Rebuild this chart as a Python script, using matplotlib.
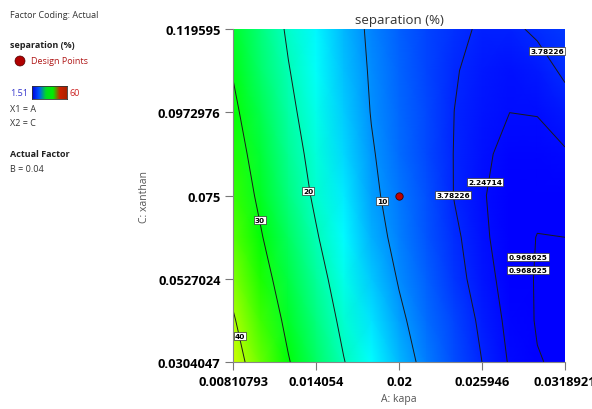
import numpy as np
import matplotlib
matplotlib.use('Agg')
import matplotlib.pyplot as plt
from matplotlib.colors import LinearSegmentedColormap
from matplotlib.patches import Ellipse

plt.rcParams['font.family'] = ['Open Sans', 'DejaVu Sans']

# axis ticks (actual factor values)
x_ticks = [0.00810793, 0.014054, 0.02, 0.025946, 0.0318921]
x_tick_labels = ['0.00810793', '0.014054', '0.02', '0.025946', '0.0318921']
y_ticks = [0.0304047, 0.0527024, 0.075, 0.0972976, 0.119595]
y_tick_labels = ['0.0304047', '0.0527024', '0.075', '0.0972976', '0.119595']

kapa = np.linspace(x_ticks[0], x_ticks[-1], 13)
xanthan = np.linspace(y_ticks[-1], y_ticks[0], 9)  # rows top -> bottom
separation = np.array([
    [28.6, 23.8, 19.3, 15.8, 12.2, 9.25, 7.0, 5.4, 4.3, 3.5, 3.4, 4.1, 4.9],
    [29.7, 24.8, 20.25, 16.5, 12.7, 9.55, 7.4, 5.6, 3.95, 3.05, 2.6, 3.0, 4.1],
    [31.1, 26.3, 21.2, 17.4, 13.2, 9.85, 7.6, 5.7, 3.77, 2.8, 2.25, 2.3, 3.0],
    [32.5, 27.6, 22.4, 18.2, 13.85, 10.35, 7.9, 5.75, 3.7, 2.45, 1.95, 1.8, 2.1],
    [33.8, 28.9, 23.6, 19.1, 15.0, 10.8, 8.4, 6.1, 3.7, 2.35, 1.7, 1.35, 1.4],
    [35.7, 30.4, 25.4, 20.45, 16.0, 11.6, 8.9, 6.5, 4.2, 2.5, 1.6, 0.93, 0.97],
    [38.2, 32.3, 26.9, 22.0, 17.4, 13.1, 9.7, 7.0, 4.6, 2.8, 1.7, 0.85, 0.55],
    [40.6, 34.4, 28.6, 23.5, 18.8, 14.7, 10.8, 7.9, 5.4, 3.3, 1.85, 0.85, 0.55],
    [42.7, 36.5, 30.35, 25.2, 20.2, 16.2, 12.1, 8.7, 6.0, 3.78, 2.1, 1.05, 0.7],
])

levels = [0.968625, 2.24714, 3.78226, 10, 20, 30, 40]
level_text = ['0.968625', '2.24714', '3.78226', '10', '20', '30', '40']

# contour label spots (level index, kapa, xanthan)
label_spots = [
    (6, 0.008609, 0.037371),
    (5, 0.010042, 0.068437),
    (4, 0.013481, 0.076205),
    (3, 0.018782, 0.073526),
    (2, 0.023869, 0.075133),
    (1, 0.026161, 0.078615),
    (2, 0.030603, 0.113703),
    (0, 0.029241, 0.058528),
    (0, 0.029241, 0.055046),
]

design_kapa = [0.02]
design_xanthan = [0.075]
z_min, z_max = 1.51, 60

cmap = LinearSegmentedColormap.from_list(
    'de', ['#0000ff', '#00ffff', '#00ff00', '#ffff00', '#ff0000'])
legend_cmap = LinearSegmentedColormap.from_list(
    'leg', ['#0000dd', '#0055ff', '#00dd22', '#00ee00', '#cc2200', '#aa2200'])

fig = plt.figure(figsize=(5.92, 4.10), dpi=100)
ax = fig.add_axes([0.3936, 0.1146, 0.5608, 0.8122])

X, Y = np.meshgrid(kapa, xanthan[::-1])
Z = separation[::-1]
ax.pcolormesh(X, Y, Z, shading='gouraud', cmap=cmap, vmin=z_min, vmax=z_max,
              rasterized=True)
ax.contour(X, Y, Z, levels=levels, colors='#1a1a1a', linewidths=0.7)

for i, lx, ly in label_spots:
    ax.text(lx, ly, level_text[i], fontsize=5.3, fontweight='bold',
            family='DejaVu Sans', ha='center', va='center', color='black',
            bbox=dict(boxstyle='square,pad=0.15', fc='white', ec='#333333', lw=0.5))

ax.scatter(design_kapa, design_xanthan, s=28, color='#c00000',
           edgecolors='#400000', linewidths=0.6, zorder=5)

ax.set_xlim(x_ticks[0], x_ticks[-1])
ax.set_ylim(y_ticks[0], y_ticks[-1])
ax.set_xticks(x_ticks)
ax.set_xticklabels(x_tick_labels)
ax.set_yticks(y_ticks)
ax.set_yticklabels(y_tick_labels)
ax.tick_params(direction='out', length=6, width=0.8, color='#777777',
               labelsize=9.3, pad=3)
for t in ax.get_xticklabels() + ax.get_yticklabels():
    t.set_fontweight('bold')
for s in ['top', 'right']:
    ax.spines[s].set_visible(False)
for s in ['left', 'bottom']:
    ax.spines[s].set_color('#888888')
    ax.spines[s].set_linewidth(0.8)

ax.set_title('separation (%)', fontsize=9.5, color='#333333', pad=4)
ax.set_xlabel('A: kapa', fontsize=7.5, color='#555555', labelpad=4)
ax.set_ylabel('C: xanthan', fontsize=7.5, color='#555555', labelpad=6)

# left side info panel
tx = 10 / 592
def fy(py):
    return 1 - py / 410

fig.text(tx, fy(15), 'Factor Coding: Actual', fontsize=6.5, color='#333333', va='center')
fig.text(tx, fy(46), 'separation (%)', fontsize=6.5, color='#222222',
         fontweight='bold', va='center')
fig.text(31 / 592, fy(62), 'Design Points', fontsize=6.5, color='#b01818', va='center')
fig.add_artist(Ellipse((20 / 592, fy(62)), 10 / 592, 10 / 410,
                       transform=fig.transFigure, fc='#b00000', ec='#500000', lw=0.5))
fig.text(tx, fy(93), '1.51', fontsize=6.5, color='#3333cc', va='center')
fig.text(70 / 592, fy(93), '60', fontsize=6.5, color='#cc2222', va='center')
cax = fig.add_axes([32 / 592, fy(100), 35 / 592, 13 / 410])
cax.imshow(np.linspace(0, 1, 200)[None, :], aspect='auto', cmap=legend_cmap)
cax.set_xticks([])
cax.set_yticks([])
for s in cax.spines.values():
    s.set_color('#333333')
    s.set_linewidth(0.6)
fig.text(tx, fy(109), 'X1 = A', fontsize=6.5, color='#333333', va='center')
fig.text(tx, fy(124), 'X2 = C', fontsize=6.5, color='#333333', va='center')
fig.text(tx, fy(155), 'Actual Factor', fontsize=6.5, color='#222222',
         fontweight='bold', va='center')
fig.text(tx, fy(170), 'B = 0.04', fontsize=6.5, color='#333333', va='center')

fig.savefig('out.png', dpi=100)
